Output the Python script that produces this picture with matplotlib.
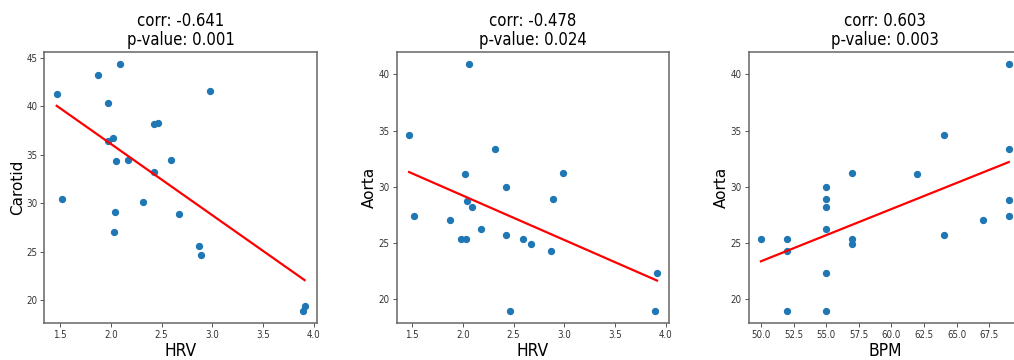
import numpy as np
import matplotlib
matplotlib.use("Agg")
import matplotlib.pyplot as plt
from matplotlib import font_manager
from matplotlib.font_manager import FontProperties

# ---- data ----
hrv_carotid_x = [1.467, 1.516, 1.875, 1.977, 2.092, 1.977, 2.020, 2.056, 2.171, 2.040, 2.033,
                 2.316, 2.428, 2.467, 2.424, 2.592, 2.674, 2.980, 2.865, 2.885, 3.895, 3.910]
carotid_y = [41.29, 30.47, 43.20, 40.33, 44.35, 36.42, 36.76, 34.35, 34.49, 29.13, 27.00,
             30.10, 38.13, 38.27, 33.22, 34.42, 28.90, 41.57, 25.63, 24.70, 18.90, 19.42]

hrv_aorta_x = [1.470, 1.520, 1.878, 1.984, 2.036, 2.026, 2.043, 2.056, 2.095, 2.178, 2.316,
               2.428, 2.430, 2.470, 2.590, 2.674, 2.865, 2.888, 2.987, 3.895, 3.915]
aorta_y_hrv = [34.64, 27.38, 27.05, 25.33, 25.33, 31.11, 28.74, 40.92, 28.24, 26.25, 33.40,
               30.00, 25.70, 18.96, 25.36, 24.90, 24.33, 28.96, 31.24, 18.96, 22.34]

bpm_x = [50, 52, 52, 52, 55, 55, 55, 55, 55, 55, 57, 57, 57, 62, 64, 64, 67, 69, 69, 69, 69]
aorta_y_bpm = [25.33, 25.33, 24.30, 18.96, 30.00, 28.96, 28.24, 26.25, 22.34, 18.96, 31.24,
               25.33, 24.90, 31.11, 34.64, 25.70, 27.05, 40.92, 33.40, 28.80, 27.40]

titles = ["corr: -0.641\np-value: 0.001", "corr: -0.478\np-value: 0.024", "corr: 0.603\np-value: 0.003"]
xlabels = ["HRV", "HRV", "BPM"]
ylabels = ["Carotid", "Aorta", "Aorta"]
xticks = [[1.5, 2.0, 2.5, 3.0, 3.5, 4.0],
          [1.5, 2.0, 2.5, 3.0, 3.5, 4.0],
          [50.0, 52.5, 55.0, 57.5, 60.0, 62.5, 65.0, 67.5]]


# ---- pick a narrow sans font if one is installed ----
def _is_regular(f):
    w = f.weight
    if isinstance(w, str):
        w = {"normal": 400, "regular": 400, "book": 400}.get(w.lower(), 0)
    return f.style == "normal" and w in (400,)


def _is_narrow(f):
    s = f.stretch
    if isinstance(s, str):
        return s in ("condensed", "semi-condensed", "extra-condensed", "ultra-condensed")
    try:
        return int(s) <= 87
    except Exception:
        return False


prefs = ["Liberation Sans Narrow", "DejaVu Sans", "Roboto", "Noto Sans", "Open Sans", "Lato", "Inter"]
narrow_fp = None
for pref in prefs:
    for f in font_manager.fontManager.ttflist:
        if pref in f.name and _is_regular(f) and (_is_narrow(f) or "Narrow" in f.name
                                                  or "Condensed" in f.name):
            narrow_fp = f.fname
            break
    if narrow_fp:
        break

if narrow_fp:
    def fp(size):
        return FontProperties(fname=narrow_fp, size=size)
    title_size, label_size, tick_size = 12, 12.5, 7
else:
    def fp(size):
        return FontProperties(family="Roboto", size=size)
    title_size, label_size, tick_size = 11.5, 12, 6.8

W, H = 1014, 360
fig = plt.figure(figsize=(W / 100, H / 100), dpi=100)

lefts = [44.3, 396.7, 748.5]
ax_w = 272.7
bottom = 360 - 323.3
top = 360 - 51.7

datasets = [(hrv_carotid_x, carotid_y), (hrv_aorta_x, aorta_y_hrv), (bpm_x, aorta_y_bpm)]

for i, (x, y) in enumerate(datasets):
    ax = fig.add_axes([lefts[i] / W, bottom / H, ax_w / W, (top - bottom) / H])
    x = np.asarray(x, float)
    y = np.asarray(y, float)
    ax.scatter(x, y, s=18, color="#1f77b4", zorder=2)
    m, b = np.polyfit(x, y, 1)
    xs = np.array([x.min(), x.max()])
    ax.plot(xs, m * xs + b, color="red", linewidth=1.6, zorder=3)
    ax.set_title(titles[i], fontproperties=fp(title_size), pad=5, linespacing=1.05)
    ax.set_xlabel(xlabels[i], fontproperties=fp(label_size), labelpad=1)
    ax.set_ylabel(ylabels[i], fontsize=11, family="DejaVu Sans", labelpad=1)
    ax.set_xticks(xticks[i])
    ax.tick_params(length=3, width=0.7, color="#555555", pad=2)
    for lab in ax.get_xticklabels() + ax.get_yticklabels():
        lab.set_fontproperties(fp(tick_size))
        lab.set_color("#333333")
    for sp in ax.spines.values():
        sp.set_color("#666666")
        sp.set_linewidth(1.1)

fig.savefig("out.png", dpi=100)
